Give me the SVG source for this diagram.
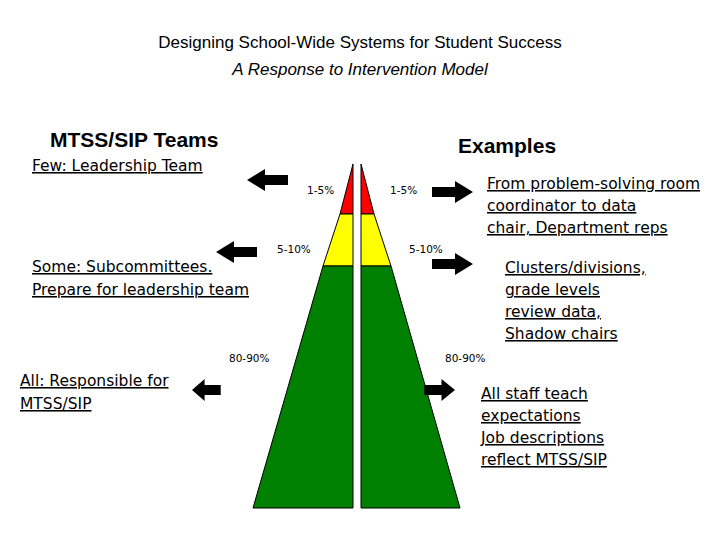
<svg xmlns="http://www.w3.org/2000/svg" width="720" height="540" viewBox="0 0 720 540">
<style>
.t{font-family:"Liberation Sans",Arial,sans-serif;font-size:17px;fill:#000}
.h{font-family:"Liberation Sans",Arial,sans-serif;font-size:21px;font-weight:bold;fill:#000}
.u{font-family:"DejaVu Sans",sans-serif;font-size:15.5px;text-decoration:underline;fill:#000}
.p{font-family:"DejaVu Sans",sans-serif;font-size:10.5px;fill:#000}
.e{stroke:#000;stroke-width:1}
</style>
<defs>
<path id="arr" d="M0,0 L18,-11 L18,-5 L41,-5 L41,5 L18,5 L18,11 Z" fill="#000"/>
</defs>
<rect width="720" height="540" fill="#fff"/>
<text class="t" x="360" y="48" text-anchor="middle">Designing School-Wide Systems for Student Success</text>
<text class="t" x="360" y="75" text-anchor="middle" font-style="italic">A Response to Intervention Model</text>
<text class="h" x="50" y="147">MTSS/SIP Teams</text>
<text class="h" x="458" y="153">Examples</text>
<g id="pyramid">
<polygon class="e" points="353,164 353,214 340,214" fill="#ff0000"/>
<polygon class="e" points="353,214 353,266 323,266 340,214" fill="#ffff00"/>
<polygon class="e" points="353,266 353,508 253,508 323,266" fill="#008000"/>
<polygon class="e" points="361,164 361,214 374,214" fill="#ff0000"/>
<polygon class="e" points="361,214 361,266 391,266 374,214" fill="#ffff00"/>
<polygon class="e" points="361,266 361,508 460,508 391,266" fill="#008000"/>
</g>
<g id="labels">
<text class="p" x="307" y="194">1-5%</text>
<text class="p" x="390" y="194">1-5%</text>
<text class="p" x="277" y="253">5-10%</text>
<text class="p" x="409" y="253">5-10%</text>
<text class="p" x="229" y="362">80-90%</text>
<text class="p" x="445" y="362">80-90%</text>
</g>
<g id="connectors">
<use href="#arr" transform="translate(247,180)"/>
<use href="#arr" transform="translate(216,252)"/>
<use href="#arr" transform="translate(192,390) scale(0.7,1)"/>
<use href="#arr" transform="translate(473,192) scale(-1,1)"/>
<use href="#arr" transform="translate(473,264) scale(-1,1)"/>
<use href="#arr" transform="translate(455,390) scale(-0.75,1)"/>
</g>
<g id="few"><text class="u" x="32" y="171">Few: Leadership Team</text></g>
<g id="some"><text class="u" x="32" y="272">Some: Subcommittees.</text><text class="u" x="32" y="295">Prepare for leadership team</text></g>
<g id="all"><text class="u" x="20" y="386">All: Responsible for</text><text class="u" x="20" y="409">MTSS/SIP</text></g>
<g id="ex1"><text class="u" x="487" y="189">From problem-solving room</text><text class="u" x="487" y="211"> coordinator to data</text><text class="u" x="487" y="233">chair, Department reps</text></g>
<g id="ex2"><text class="u" x="505" y="273">Clusters/divisions,</text><text class="u" x="505" y="295">grade levels</text><text class="u" x="505" y="317"> review data,</text><text class="u" x="505" y="339">Shadow chairs</text></g>
<g id="ex3"><text class="u" x="481" y="399">All staff teach</text><text class="u" x="481" y="421">expectations</text><text class="u" x="481" y="443">Job descriptions</text><text class="u" x="481" y="465">reflect MTSS/SIP</text></g>
</svg>
